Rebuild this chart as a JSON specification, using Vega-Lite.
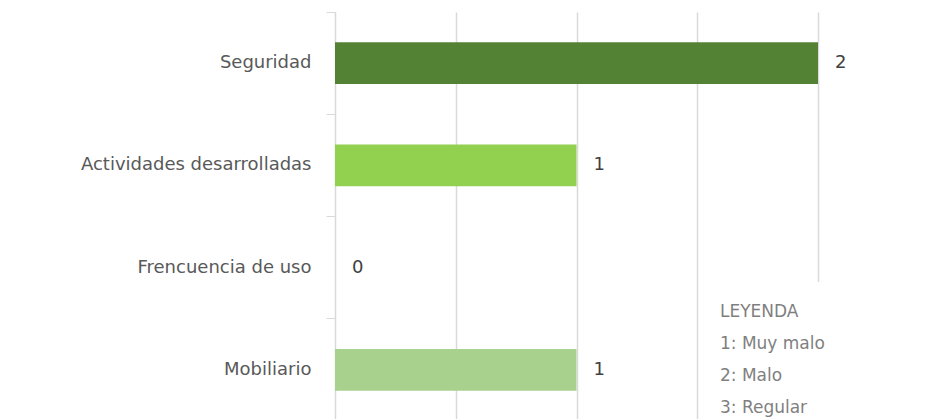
{
  "$schema": "https://vega.github.io/schema/vega-lite/v6.json",
  "width": 483,
  "height": 409,
  "autosize": {"type": "none"},
  "padding": {"left": 335, "top": 12, "right": 110, "bottom": 0},
  "background": "white",
  "config": {
    "view": {"stroke": null},
    "font": "DejaVu Sans"
  },
  "data": {
    "values": [
      {"cat": "Seguridad", "value": 2},
      {"cat": "Actividades desarrolladas", "value": 1},
      {"cat": "Frencuencia de uso", "value": 0},
      {"cat": "Mobiliario", "value": 1}
    ]
  },
  "encoding": {
    "y": {
      "field": "cat",
      "type": "nominal",
      "sort": null,
      "scale": {"domain": ["Seguridad", "Actividades desarrolladas", "Frencuencia de uso", "Mobiliario"], "paddingInner": 0, "paddingOuter": 0},
      "axis": {
        "title": null,
        "bandPosition": 0,
        "tickSize": 9,
        "tickColor": "#d9d9d9",
        "domainColor": "#d9d9d9",
        "labelPadding": 15,
        "labelFontSize": 18,
        "labelLimit": 400,
        "labelColor": "#595959",
        "labelAlign": "right",
        "labelBaseline": "middle",
        "grid": false
      }
    },
    "x": {
      "field": "value",
      "type": "quantitative",
      "scale": {"domain": [0, 2], "nice": false},
      "axis": {
        "title": null,
        "values": [0, 0.5, 1, 1.5, 2],
        "labels": false,
        "ticks": false,
        "domain": false,
        "grid": true,
        "gridColor": "#d9d9d9",
        "gridWidth": 1.5
      }
    }
  },
  "layer": [
    {
      "mark": {"type": "bar", "height": {"band": 0.41}},
      "encoding": {
        "color": {
          "field": "cat",
          "type": "nominal",
          "scale": {"domain": ["Seguridad", "Actividades desarrolladas", "Frencuencia de uso", "Mobiliario"], "range": ["#548235", "#92d050", "#92d050", "#a9d18e"]},
          "legend": null
        }
      }
    },
    {
      "mark": {"type": "text", "align": "left", "baseline": "middle", "dx": 17, "fontSize": 18, "color": "#404040"},
      "encoding": {"text": {"field": "value", "type": "quantitative"}}
    },
    {
      "data": {"values": [{"from": 1.55, "to": 2.3, "row": "Mobiliario"}]},
      "mark": {"type": "bar", "color": "white", "height": {"band": 1.72}},
      "encoding": {
        "x": {"field": "from", "type": "quantitative"},
        "x2": {"field": "to"},
        "y": {"field": "row", "type": "nominal"}
      }
    },
    {
      "data": {"values": [{"lines": ["LEYENDA", "1: Muy malo", "2: Malo", "3: Regular"], "pos": 1.594, "row": "Mobiliario"}]},
      "mark": {"type": "text", "align": "left", "baseline": "middle", "fontSize": 17, "lineHeight": 32, "color": "#7f7f7f", "dy": -58},
      "encoding": {
        "x": {"field": "pos", "type": "quantitative"},
        "y": {"field": "row", "type": "nominal"},
        "text": {"field": "lines", "type": "nominal"}
      }
    }
  ]
}
